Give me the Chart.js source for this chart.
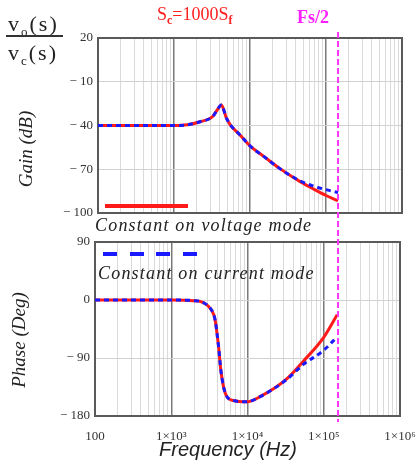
<!DOCTYPE html>
<html>
<head>
<meta charset="utf-8">
<script src="https://cdn.jsdelivr.net/npm/chart.js@4.4.1/dist/chart.umd.min.js"></script>
<style>
  body { margin: 0; background: #fff; }
  #wrap { position: relative; width: 419px; height: 468px; overflow: hidden; font-family: 'Liberation Serif', serif; color: #222; }
  canvas { position: absolute; left: 0; top: 0; }
  .t { position: absolute; white-space: nowrap; line-height: 1; }
  .sub { font-size: 13px; position: relative; top: 5px; }
</style>
</head>
<body>
<div id="wrap">
  <canvas id="phaseChart" width="419" height="468"></canvas>
  <canvas id="gainChart" width="419" height="468"></canvas>

  <div class="t" style="left:8px; top:13px; font-size:22px; letter-spacing:2px;">v<span class="sub">o</span>(s)</div>
  <div style="position:absolute; left:6px; top:35px; width:57px; height:2px; background:#333;"></div>
  <div class="t" style="left:8px; top:42px; font-size:22px; letter-spacing:2px;">v<span class="sub">c</span>(s)</div>

  <div class="t" style="left:157px; top:5px; font-size:18px; color:#ff2020;">S<span class="sub" style="font-size:12px;top:4px;font-weight:bold;">c</span>=1000S<span class="sub" style="font-size:12px;top:4px;font-weight:bold;">f</span></div>
  <div class="t" style="left:297px; top:8px; font-size:18px; font-weight:bold; color:#ff20ff;">Fs/2</div>

  <div class="t" style="left:25px; top:149px; font-size:19px; font-style:italic; transform:translate(-50%,-50%) rotate(-90deg);">Gain (dB)</div>
  <div class="t" style="left:18px; top:340px; font-size:19px; font-style:italic; transform:translate(-50%,-50%) rotate(-90deg);">Phase (Deg)</div>

  <div style="position:absolute; left:105px; top:204px; width:83px; height:4px; background:#ff1a1a;"></div>
  <div class="t" style="left:95px; top:216px; font-size:18px; font-style:italic; letter-spacing:1.2px;">Constant on voltage mode</div>
  <div style="position:absolute; left:103px; top:252px; width:94px; height:4px; background:repeating-linear-gradient(90deg, #1a1aff 0 14px, transparent 14px 26.7px);"></div>
  <div class="t" style="left:98px; top:264px; font-size:18px; font-style:italic; letter-spacing:1.2px;">Constant on current mode</div>

  <div class="t" style="left:228px; top:439px; font-size:20px; font-style:italic; font-family:'Liberation Sans', sans-serif; transform:translateX(-50%);">Frequency (Hz)</div>
</div>
<script>
const freqDecades = [100, 1e3, 1e4, 1e5, 1e6];
const freqTickLabels = ['100', '1×10³', '1×10⁴', '1×10⁵', '1×10⁶'];
const gainTicks = [20, -10, -40, -70, -100];
const phaseTicks = [90, 0, -90, -180];
const fsHalf = 1.44e5;

const gainFreq    = [100, 300, 1000, 1500, 2200, 3200, 3700, 4200, 4900, 5500, 7400, 10000, 15000, 24500, 45700, 68000, 100000, 144000];
const gainVoltage = [-40, -40, -40, -39.5, -37.4, -34, -29.4, -26, -35, -39.5, -46.5, -54, -61, -69.4, -78.5, -83.5, -88, -91.6];
const gainCurrent = [-40, -40, -40, -39.5, -37.4, -34, -29.4, -26, -35, -39.5, -46.5, -54, -61, -69.4, -78, -81.5, -84, -86];

const phaseFreq    = [100, 1000, 2000, 2630, 3390, 3760, 4170, 4470, 5130, 6530, 9770, 14600, 33000, 54000, 100000, 150000];
const phaseVoltage = [0, 0, -1, -4, -16, -31, -72, -109, -145, -156, -158, -150, -122, -95, -58, -23];
const phaseCurrent = [0, 0, -1, -4, -16, -31, -72, -109, -145, -156, -158, -150, -123, -100, -78, -57];

// gridline positions 1..9 per decade
const gridFreqs = [];
for (let d = 100; d < 1e6; d *= 10) {
  for (let k = 1; k <= 9; k++) gridFreqs.push(k * d);
}
gridFreqs.push(1e6);

const tickFont = { family: 'Liberation Serif', size: 13 };

const frameBox = {
  id: 'frameBox',
  beforeDatasetsDraw(chart) {
    const { ctx, chartArea: a } = chart;
    ctx.save();
    ctx.strokeStyle = '#5a5a5a';
    ctx.lineWidth = 2;
    ctx.strokeRect(a.left, a.top, a.right - a.left, a.bottom - a.top);
    ctx.restore();
  }
};

const fsLine = {
  id: 'fsLine',
  afterDraw(chart) {
    const ctx = chart.ctx;
    const x = chart.scales.x.getPixelForValue(fsHalf);
    ctx.save();
    ctx.strokeStyle = '#ff33ff';
    ctx.lineWidth = 2;
    ctx.setLineDash([6, 3]);
    ctx.beginPath();
    ctx.moveTo(x, 32);
    ctx.lineTo(x, 422);
    ctx.stroke();
    ctx.restore();
  }
};

function makeChart(id, freq, red, blue, yTicks, area, showX, extra) {
  const xH = showX ? 30 : 0;
  return new Chart(document.getElementById(id), {
    type: 'line',
    data: {
      datasets: [{
        data: freq.map((f, i) => ({ x: f, y: red[i] })),
        borderColor: '#ff1a1a',
        borderWidth: 3,
        pointRadius: 0,
        cubicInterpolationMode: 'monotone',
        order: 1
      }, {
        data: freq.map((f, i) => ({ x: f, y: blue[i] })),
        borderColor: '#1a1aff',
        borderWidth: 3,
        borderDash: [5, 4],
        pointRadius: 0,
        cubicInterpolationMode: 'monotone',
        order: 0
      }]
    },
    options: {
      responsive: false,
      animation: false,
      layout: { padding: { left: 0, top: area.top, right: 419 - area.right, bottom: 468 - area.bottom - xH } },
      plugins: { legend: { display: false }, tooltip: { enabled: false } },
      scales: {
        x: {
          type: 'logarithmic',
          min: 100,
          max: 1e6,
          afterBuildTicks: s => { s.ticks = gridFreqs.map(v => ({ value: v })); },
          afterFit: s => { s.height = xH; s.paddingLeft = 0; s.paddingRight = 0; },
          border: { display: false },
          grid: {
            drawTicks: false,
            color: c => freqDecades.includes(c.tick.value) ? '#7a7a7a' : '#dadada',
            lineWidth: c => freqDecades.includes(c.tick.value) ? 1.5 : 1
          },
          ticks: {
            display: showX,
            autoSkip: false,
            maxRotation: 0,
            padding: 13,
            font: tickFont,
            color: '#333',
            callback: v => {
              const i = freqDecades.indexOf(v);
              return i < 0 ? '' : freqTickLabels[i];
            }
          }
        },
        y: {
          min: Math.min(...yTicks),
          max: Math.max(...yTicks),
          afterBuildTicks: s => { s.ticks = yTicks.map(v => ({ value: v })); },
          afterFit: s => { s.width = area.left; s.paddingTop = 0; s.paddingBottom = 0; },
          border: { display: false },
          grid: { drawTicks: false, color: '#d2d2d2' },
          ticks: {
            padding: 5,
            font: tickFont,
            color: '#333',
            callback: v => v < 0 ? '− ' + Math.abs(v) : String(v)
          }
        }
      }
    },
    plugins: extra ? [frameBox, extra] : [frameBox]
  });
}

makeChart('phaseChart', phaseFreq, phaseVoltage, phaseCurrent, phaseTicks,
  { left: 95, top: 242, right: 400, bottom: 416 }, true, null);
makeChart('gainChart', gainFreq, gainVoltage, gainCurrent, gainTicks,
  { left: 98, top: 38, right: 402, bottom: 213 }, false, fsLine);
</script>
</body>
</html>
